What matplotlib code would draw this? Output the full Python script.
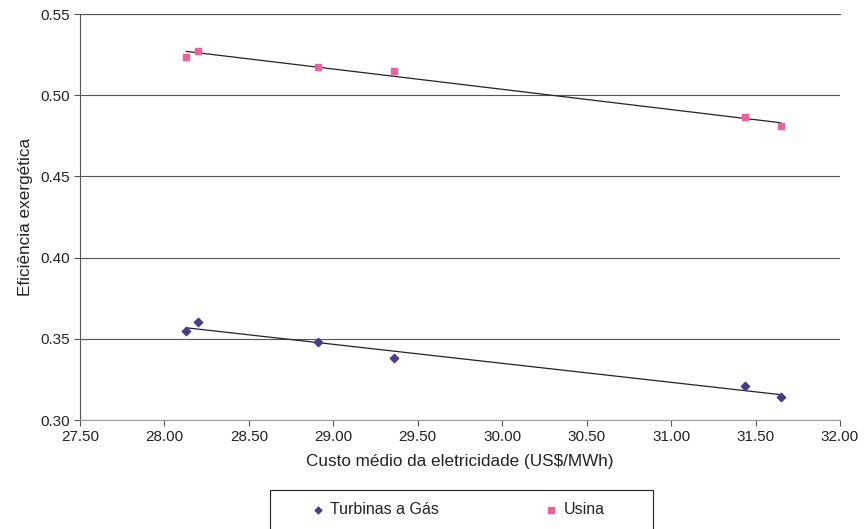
import matplotlib
matplotlib.use("Agg")
import matplotlib.pyplot as plt
from matplotlib.patches import Rectangle
import numpy as np

plt.rcParams['font.family'] = ['Liberation Sans', 'DejaVu Sans']

custo = [28.13, 28.20, 28.91, 29.36, 31.44, 31.65]
usina = [0.5235, 0.5275, 0.5172, 0.5148, 0.4866, 0.4810]
turbinas = [0.3548, 0.3603, 0.3480, 0.3382, 0.3209, 0.3142]

fig = plt.figure(figsize=(8.67, 5.29), dpi=100)
ax = fig.add_axes([80/867, 1-420/529, 760/867, 406/529])

x = np.array(custo)
for ys in (turbinas, usina):
    p = np.polyfit(x, ys, 1)
    xx = np.array([x.min(), x.max()])
    ax.plot(xx, np.polyval(p, xx), color='#222222', lw=0.9, zorder=2)

ax.scatter(custo, turbinas, marker='D', s=18, color='#4B3A8C', zorder=3, label='Turbinas a Gás')
ax.scatter(custo, usina, marker='s', s=22, color='#F0609A', zorder=3, label='Usina')

ax.set_xlim(27.5, 32.0)
ax.set_ylim(0.30, 0.55)
ax.set_xticks(np.arange(27.5, 32.01, 0.5))
ax.set_yticks(np.arange(0.30, 0.551, 0.05))
ax.xaxis.set_major_formatter(matplotlib.ticker.FormatStrFormatter('%.2f'))
ax.yaxis.set_major_formatter(matplotlib.ticker.FormatStrFormatter('%.2f'))
ax.grid(axis='y', color='#555555', lw=0.8)
ax.set_axisbelow(True)
ax.spines['right'].set_visible(False)
ax.spines['top'].set_color('#555555')
ax.spines['left'].set_color('#555555')
ax.spines['bottom'].set_color('#999999')
ax.tick_params(direction='out', length=4, labelsize=11, colors='#222222', color='#555555')
ax.set_xlabel('Custo médio da eletricidade (US$/MWh)', fontsize=12.3, color='#222222', labelpad=7)
ax.set_ylabel('Eficiência exergética', fontsize=12.3, color='#222222', labelpad=5)

# legend frame
fig.patches.append(Rectangle((270/867, -10/529), 383/867, 49/529, transform=fig.transFigure,
                             fill=False, edgecolor='#222222', lw=0.8))
leg = fig.legend(loc='center left', bbox_to_anchor=(308/867, 1-510/529), ncol=2,
                 frameon=False, fontsize=11.5, handletextpad=0.2, handlelength=1.2,
                 columnspacing=6.4, markerscale=0.8, borderpad=0, borderaxespad=0)
for t in leg.get_texts():
    t.set_color('#222222')

fig.savefig('out.png', dpi=100)
